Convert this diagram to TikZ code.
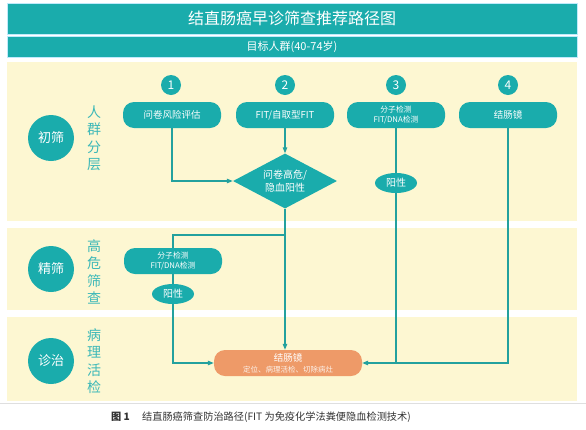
\documentclass[tikz,border=0pt]{standalone}
\usepackage{fontspec}
\setmainfont{Noto Sans CJK SC}
\usetikzlibrary{shapes.geometric,arrows.meta}
\definecolor{tealA}{HTML}{1AACAC}
\definecolor{bandC}{HTML}{FDF7D2}
\definecolor{lineC}{HTML}{23A19E}
\definecolor{orangeA}{HTML}{EE9A68}
\definecolor{capC}{HTML}{333333}
\begin{document}
\begin{tikzpicture}[x=1pt,y=-1pt,
  bar/.style={fill=tealA, draw=cyan!25, line width=0.8pt, text=white, minimum width=570pt, inner sep=0pt},
  numc/.style={circle, fill=tealA, text=white, minimum size=20pt, inner sep=0pt, font=\fontsize{12}{12}\selectfont},
  stage/.style={circle, fill=tealA, text=white, minimum size=46pt, inner sep=0pt, font=\fontsize{13}{13}\selectfont},
  vtext/.style={text=tealA!85!white, align=center, inner sep=0pt, font=\fontsize{14}{17.5}\selectfont},
  boxA/.style={rounded corners=11pt, fill=tealA, text=white, minimum width=98pt, minimum height=26pt, inner sep=0pt, align=center, font=\fontsize{9.5}{11}\selectfont},
  boxS/.style={boxA, font=\fontsize{7.8}{10}\selectfont},
  posE/.style={ellipse, fill=tealA, text=white, minimum width=42pt, minimum height=20pt, inner sep=0pt, font=\fontsize{10}{10}\selectfont},
  conn/.style={draw=lineC, line width=1.1pt},
  arr/.style={conn, -{Triangle[length=6pt,width=4.5pt]}}
]
\useasboundingbox[fill=white] (0,0) rectangle (586,429);
% bands
\fill[bandC] (7,62) rectangle (577,221);
\fill[bandC] (7,228) rectangle (577,310);
\fill[bandC] (7,317) rectangle (577,401);
\draw[gray!25, line width=0.4pt] (0,403.5) -- (586,403.5);
% header
\node[bar, minimum height=31pt, font=\fontsize{16}{16}\selectfont] (title) at (292,18.5) {结直肠癌早诊筛查推荐路径图};
\node[bar, minimum height=21pt, font=\fontsize{11}{11}\selectfont] (target) at (292,46.5) {目标人群(40-74岁)};
% stages
\node[stage] (s1) at (51,138) {初筛};
\node[stage] (s2) at (51,269) {精筛};
\node[stage] (s3) at (51,361) {诊治};
\node[vtext] (v1) at (94,138.5) {人\\群\\分\\层};
\node[vtext] (v2) at (94,272) {高\\危\\筛\\查};
\node[vtext] (v3) at (94,361) {病\\理\\活\\检};
% numbers
\node[numc] (n1) at (171,85) {1};
\node[numc] (n2) at (285,85) {2};
\node[numc] (n3) at (396,85) {3};
\node[numc] (n4) at (508,85) {4};
% row boxes
\node[boxA] (b1) at (172,115) {问卷风险评估};
\node[boxA] (b2) at (285,115) {FIT/自取型FIT};
\node[boxS] (b3) at (396,115) {分子检测\\FIT/DNA检测};
\node[boxA] (b4) at (508,115) {结肠镜};
\node[diamond, fill=tealA, text=white, minimum width=104pt, minimum height=55pt, aspect=1.9, inner sep=0pt, align=center, font=\fontsize{10}{12.5}\selectfont] (dia) at (285,181) {问卷高危/\\隐血阳性};
\node[posE] (p3) at (396,183) {阳性};
% stage 2
\node[boxS] (m2) at (173,261) {分子检测\\FIT/DNA检测};
\node[posE] (p2) at (173,294) {阳性};
% colonoscopy
\node[rounded corners=11pt, fill=orangeA, text=white, minimum width=148pt, minimum height=26pt, inner sep=0pt, align=center] (col) at (288,363) {{\fontsize{9.5}{11}\selectfont 结肠镜}\\[-1pt]{\fontsize{7.5}{9}\selectfont\color{white!85!orangeA}定位、病理活检、切除病灶}};
\coordinate (j1) at (285,235);
% connectors
\draw[arr] (b1.south) |- (dia.west);
\draw[arr] (b2.south) -- (dia.north);
\draw[arr] (dia.south) -- (dia.south |- col.north);
\draw[conn] (j1) -| (m2.north);
\draw[conn] (m2.south) -- (p2.north);
\draw[arr] (p2.south) |- (col.west);
\draw[conn] (b3.south) -- (p3.north);
\draw[conn] (p3.south) -- (p3.south |- col.east);
\draw[arr] (b4.south) |- (col.east);
% caption
\node[text=capC, font=\fontsize{10.2}{12}\selectfont] (cap) at (261,417) {\textbf{图 1}\hspace{1.2em}结直肠癌筛查防治路径(FIT 为免疫化学法粪便隐血检测技术)};
\end{tikzpicture}
\end{document}
